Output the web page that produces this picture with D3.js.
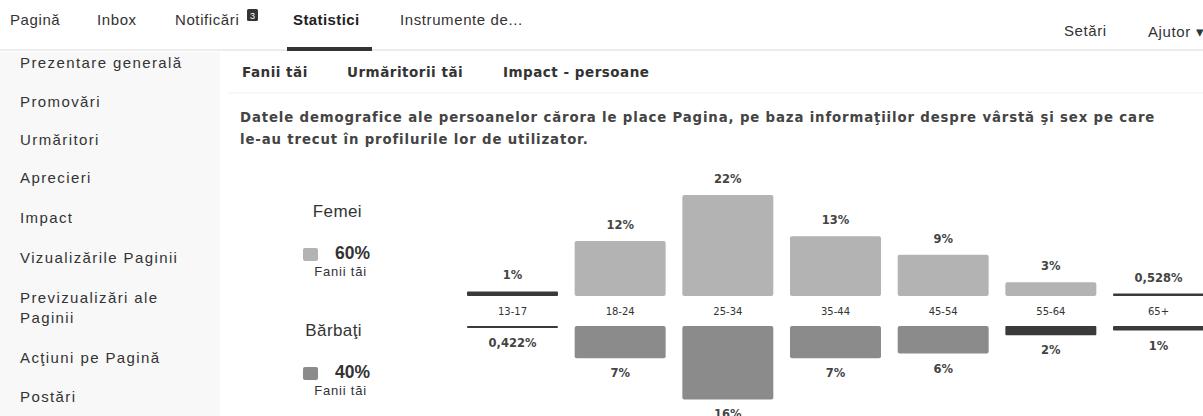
<!DOCTYPE html>
<html>
<head>
<meta charset="utf-8">
<script src="https://cdn.jsdelivr.net/npm/d3@7"></script>
<style>
  body { margin: 0; background: #fff; }
  svg { display: block; }
  .nav { font-family: "Liberation Sans", Arial, sans-serif; font-size: 15px; letter-spacing: 0.6px; fill: #333; }
  .side { font-family: "Liberation Sans", Arial, sans-serif; font-size: 15px; letter-spacing: 1.4px; fill: #333; }
  .tab { font-family: "DejaVu Sans", sans-serif; font-weight: bold; font-size: 13.5px; letter-spacing: 0.5px; fill: #333; }
  .desc { font-family: "DejaVu Sans", sans-serif; font-weight: bold; font-size: 13.3px; letter-spacing: 0.85px; fill: #444; }
  .pct { font-family: "DejaVu Sans", sans-serif; font-weight: bold; font-size: 11.5px; fill: #444; }
</style>
</head>
<body>
<div class="canvas"></div>
<script>
// data
const ageGroups = ["13-17", "18-24", "25-34", "35-44", "45-54", "55-64", "65+"];
const femaleShare = [1, 12, 22, 13, 9, 3, 0.528];
const maleShare = [0.422, 7, 16, 7, 6, 2, 1];
const genderTotals = [60, 40];
const genderNames = ["Femei", "Bărbaţi"];

const navItems = ["Pagină", "Inbox", "Notificări", "Statistici", "Instrumente de..."];
const sideItems = ["Prezentare generală", "Promovări", "Urmăritori", "Aprecieri", "Impact",
  "Vizualizările Paginii", "Previzualizări ale", "Paginii", "Acţiuni pe Pagină", "Postări"];
const tabItems = ["Fanii tăi", "Urmăritorii tăi", "Impact - persoane"];

const width = 1203, height = 416;
const femaleColor = "#b3b3b3", maleColor = "#8b8b8b", thinColor = "#3a3a3a";

const svg = d3.select(".canvas")
  .append("svg")
    .attr("width", width)
    .attr("height", height);

svg.append("rect").attr("width", width).attr("height", height).attr("fill", "#fff");

// top navigation
const navX = [10, 97, 175, 293, 400];
svg.selectAll(".navitem")
  .data(navItems)
  .join("text")
    .attr("class", "nav")
    .attr("x", (d, i) => navX[i])
    .attr("y", 25)
    .style("font-weight", d => d == "Statistici" ? "bold" : null)
    .style("letter-spacing", d => d == "Statistici" ? "0.4px" : null)
    .style("fill", d => d == "Statistici" ? "#222" : null)
    .text(d => d);

// notification badge
svg.append("rect").attr("x", 247).attr("y", 9).attr("width", 11).attr("height", 12)
  .attr("rx", 1.5).attr("fill", "#333");
svg.append("text").attr("x", 252.5).attr("y", 18.5).attr("text-anchor", "middle")
  .style("font-family", "Liberation Sans, sans-serif").style("font-size", "9px")
  .style("fill", "#fff").text("3");

svg.append("text").attr("class", "nav").attr("x", 1064).attr("y", 36).text("Setări");
svg.append("text").attr("class", "nav").attr("x", 1148).attr("y", 37).text("Ajutor ▾");

svg.append("line").attr("x1", 0).attr("x2", width).attr("y1", 50).attr("y2", 50)
  .attr("stroke", "#ececec").attr("stroke-width", 2);
svg.append("rect").attr("x", 287).attr("y", 47).attr("width", 85).attr("height", 4)
  .attr("fill", "#333");

// left sidebar
svg.append("rect").attr("x", 0).attr("y", 52).attr("width", 220).attr("height", height - 52)
  .attr("fill", "#f8f8f8");
const sideY = [68, 107, 145, 183, 223, 263, 303, 323, 363, 402];
svg.selectAll(".sideitem")
  .data(sideItems)
  .join("text")
    .attr("class", "side")
    .attr("x", 20)
    .attr("y", (d, i) => sideY[i])
    .text(d => d);

// sub tabs
const tabX = [242, 347, 503];
svg.selectAll(".tabitem")
  .data(tabItems)
  .join("text")
    .attr("class", "tab")
    .attr("x", (d, i) => tabX[i])
    .attr("y", 77)
    .text(d => d);
svg.append("line").attr("x1", 228).attr("x2", width).attr("y1", 93).attr("y2", 93)
  .attr("stroke", "#f0f0f0");

svg.append("text").attr("class", "desc").attr("x", 240).attr("y", 122)
  .text("Datele demografice ale persoanelor cărora le place Pagina, pe baza informaţiilor despre vârstă şi sex pe care");
svg.append("text").attr("class", "desc").attr("x", 240).attr("y", 144)
  .text("le-au trecut în profilurile lor de utilizator.");

// legend
const legendY = [217, 336];
const legendColors = [femaleColor, maleColor];
genderNames.forEach((name, i) => {
  const y0 = legendY[i];
  svg.append("text").attr("x", 362).attr("y", y0).attr("text-anchor", "end")
    .style("font-family", "Liberation Sans, Arial, sans-serif").style("font-size", "17px")
    .style("letter-spacing", "0.4px")
    .style("fill", "#333").text(name);
  svg.append("rect").attr("x", 303).attr("y", y0 + 31).attr("width", 15).attr("height", 13)
    .attr("rx", 2).attr("fill", legendColors[i]);
  svg.append("text").attr("x", 370).attr("y", y0 + 42).attr("text-anchor", "end")
    .style("font-family", "Liberation Sans, Arial, sans-serif").style("font-size", "17.5px")
    .style("font-weight", "bold").style("fill", "#333").text(genderTotals[i] + "%");
  svg.append("text").attr("x", 367).attr("y", y0 + 59).attr("text-anchor", "end")
    .style("font-family", "Liberation Sans, Arial, sans-serif").style("font-size", "13px")
    .style("letter-spacing", "0.8px")
    .style("fill", "#333").text("Fanii tăi");
});

// bars
const x = d3.scaleBand()
    .domain(ageGroups)
    .range([467, 1204])
    .paddingInner(0.155)
    .paddingOuter(0);

const h = d3.scaleLinear()
    .domain([0, 22])
    .range([0, 101]);

const femaleBase = 296, maleBase = 326;
const fmtPct = v => v < 1 ? d3.format(".3f")(v).replace(".", ",") + "%" : d3.format("d")(v) + "%";
const barColor = (v, c) => v < 2.5 ? thinColor : c;
const barH = v => Math.max(2, h(v));

const female = ageGroups.map((g, i) => ({group: g, value: femaleShare[i]}));
const male = ageGroups.map((g, i) => ({group: g, value: maleShare[i]}));

svg.append("g").selectAll("rect")
  .data(female)
  .join("rect")
    .attr("x", d => x(d.group))
    .attr("y", d => femaleBase - barH(d.value))
    .attr("width", x.bandwidth())
    .attr("height", d => barH(d.value))
    .attr("rx", d => d.value < 2.5 ? 1 : 2)
    .style("fill", d => barColor(d.value, femaleColor));

svg.append("g").selectAll("text")
  .data(female)
  .join("text")
    .attr("class", "pct")
    .attr("text-anchor", "middle")
    .attr("x", d => x(d.group) + x.bandwidth() / 2)
    .attr("y", d => femaleBase - barH(d.value) - 12)
    .text(d => fmtPct(d.value));

svg.append("g").selectAll("rect")
  .data(male)
  .join("rect")
    .attr("x", d => x(d.group))
    .attr("y", maleBase)
    .attr("width", x.bandwidth())
    .attr("height", d => barH(d.value))
    .attr("rx", d => d.value < 2.5 ? 1 : 2)
    .style("fill", d => barColor(d.value, maleColor));

svg.append("g").selectAll("text")
  .data(male)
  .join("text")
    .attr("class", "pct")
    .attr("text-anchor", "middle")
    .attr("x", d => x(d.group) + x.bandwidth() / 2)
    .attr("y", d => maleBase + barH(d.value) + 19)
    .text(d => fmtPct(d.value));

// age group labels between the two halves
const axis = svg.append("g")
    .attr("transform", `translate(0, 307)`)
    .call(d3.axisBottom(x).tickSize(0).tickPadding(0));
axis.select(".domain").remove();
axis.selectAll("text")
    .attr("dy", "0.75em")
    .style("font-family", "DejaVu Sans, sans-serif")
    .style("font-size", "10px")
    .style("fill", "#333");
</script>
</body>
</html>
